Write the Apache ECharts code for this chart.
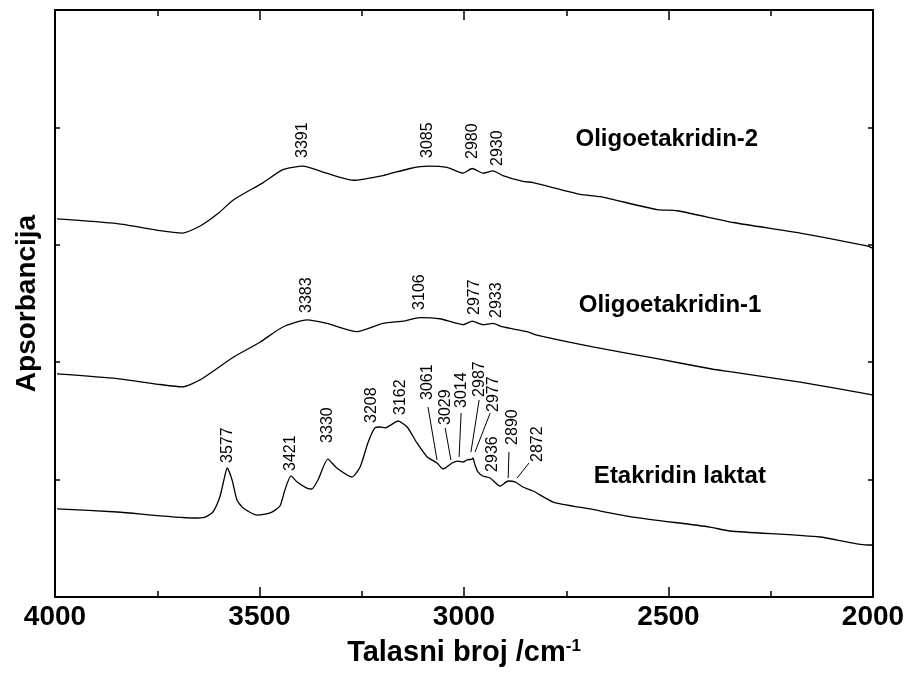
<!DOCTYPE html>
<html>
<head>
<meta charset="utf-8">
<script src="https://cdn.jsdelivr.net/npm/echarts@6/dist/echarts.min.js"></script>
<style>
html,body{margin:0;padding:0;background:#fff;}
#chart{width:908px;height:677px;}
</style>
</head>
<body>
<div id="chart"></div>
<script>
// ---- Data (wavenumber cm-1, absorbance in arbitrary offset units) ----
const xTickValues = [4000, 3500, 3000, 2500, 2000];

const oligo2 = [[3995,3.22],[3848,3.18],[3743,3.12],[3689,3.10],[3645,3.16],[3600,3.27],[3565,3.38],[3491,3.53],[3443,3.64],[3394,3.67],[3345,3.62],[3271,3.55],[3198,3.59],[3132,3.65],[3088,3.67],[3042,3.66],[3002,3.61],[2980,3.65],[2954,3.61],[2929,3.63],[2905,3.59],[2856,3.54],[2831,3.53],[2716,3.43],[2667,3.41],[2528,3.30],[2479,3.29],[2342,3.19],[2178,3.10],[2015,2.99],[2000,2.97]];

const oligo1 = [[3995,1.90],[3848,1.86],[3743,1.81],[3689,1.79],[3645,1.85],[3565,2.04],[3499,2.17],[3443,2.30],[3384,2.36],[3335,2.33],[3262,2.26],[3198,2.33],[3149,2.35],[3108,2.38],[3059,2.37],[3002,2.32],[2980,2.35],[2954,2.32],[2929,2.33],[2905,2.30],[2846,2.26],[2822,2.23],[2685,2.13],[2528,2.03],[2391,1.94],[2350,1.92],[2178,1.83],[2015,1.73],[2000,1.72]];

const laktat = [[3995,0.750],[3848,0.724],[3663,0.673],[3633,0.681],[3614,0.724],[3597,0.852],[3587,0.997],[3579,1.099],[3567,0.997],[3555,0.826],[3540,0.758],[3506,0.698],[3474,0.716],[3450,0.775],[3438,0.911],[3423,1.031],[3408,0.980],[3384,0.928],[3372,0.920],[3357,0.997],[3333,1.175],[3311,1.099],[3274,1.022],[3254,1.107],[3235,1.312],[3218,1.440],[3205,1.448],[3193,1.440],[3161,1.499],[3139,1.448],[3115,1.312],[3090,1.193],[3066,1.141],[3051,1.090],[3029,1.141],[3015,1.158],[3002,1.150],[2993,1.167],[2980,1.175],[2978,1.184],[2973,1.124],[2966,1.065],[2954,1.031],[2936,1.014],[2912,0.945],[2892,0.988],[2875,0.980],[2856,0.937],[2831,0.903],[2782,0.809],[2692,0.750],[2587,0.681],[2399,0.596],[2350,0.562],[2130,0.511],[2015,0.443],[2000,0.443]];

// peak annotations: text, x (cm-1), y (bottom of text)
const oligo2PeakText = ['3391','3085','2980','2930'];
const oligo2PeakX = [3394,3088,2978,2917];
const oligo2PeakY = [3.739,3.739,3.731,3.671];

const oligo1PeakText = ['3383','3106','2977','2933'];
const oligo1PeakX = [3384,3108,2973,2919];
const oligo1PeakY = [2.419,2.445,2.402,2.376];

const laktatPeakText = ['3577','3421','3330','3208','3162','3061','3029','3014','2987','2977','2936','2890','2872'];
const laktatPeakX = [3579,3423,3333,3225,3156,3088,3046,3005,2961,2927,2929,2880,2819];
const laktatPeakY = [1.141,1.073,1.312,1.482,1.550,1.678,1.465,1.610,1.704,1.576,1.065,1.295,1.150];

// leader lines for crowded peak labels
const leaderX1 = [3088,3046,3007,2963,2936,2890,2841];
const leaderY1 = [1.618,1.440,1.567,1.678,1.567,1.235,1.141];
const leaderX2 = [3066,3032,3012,2983,2973,2892,2870];
const leaderY2 = [1.167,1.167,1.193,1.235,1.235,1.014,1.014];

// curve names and their positions (centre)
const curveNames = ['Oligoetakridin-2','Oligoetakridin-1','Etakridin laktat'];
const curveNameX = [2504,2496,2472];
const curveNameY = [3.90,2.48,1.03];

// ---- Chart ----
const FONT = "'Liberation Sans', Arial, Helvetica, sans-serif";
const chart = echarts.init(document.getElementById('chart'), null, {renderer:'canvas'});

function peakSeries(texts, xs, ys, extra) {
  const s = {
    type:'scatter', silent:true, symbolSize:0.1,
    itemStyle:{color:'#000', opacity:0},
    data: texts.map((t,i)=>({name:t, value:[xs[i], ys[i]]})),
    label:{show:true, position:[0,0], rotate:90, align:'left', verticalAlign:'middle',
      formatter:'{b}', fontSize:16, color:'#000', opacity:1, textBorderWidth:0, fontFamily:FONT},
    z:5
  };
  return Object.assign(s, extra||{});
}

const axisCommonX = {
  type:'value', min:2000, max:4000, interval:500, inverse:true,
  axisLine:{show:true, onZero:false, lineStyle:{color:'#000', width:2}},
  axisTick:{show:true, inside:true, length:10, lineStyle:{color:'#000', width:1.5}},
  minorTick:{show:true, splitNumber:2, length:6, lineStyle:{color:'#000', width:1.5}},
  splitLine:{show:false}, minorSplitLine:{show:false}
};
const axisCommonY = {
  type:'value', min:0, max:5, interval:1,
  axisLine:{show:true, onZero:false, lineStyle:{color:'#000', width:2}},
  axisTick:{show:true, inside:true, length:5, lineStyle:{color:'#000', width:1.5}},
  axisLabel:{show:false}, splitLine:{show:false}
};

const option = {
  animation:false,
  backgroundColor:'#fff',
  grid:{left:55, right:35, top:10, bottom:80, containLabel:false},
  xAxis:[
    Object.assign({}, axisCommonX, {
      position:'bottom',
      axisLabel:{show:true, fontSize:28, fontWeight:'bold', color:'#000', fontFamily:FONT, margin:6,
        formatter: v => xTickValues.includes(v) ? String(v) : ''},
      name:'{a|Talasni broj /cm}{s|-1}', nameLocation:'middle', nameGap:41,
      nameTextStyle:{rich:{
        a:{fontSize:29, fontWeight:'bold', color:'#000', fontFamily:FONT},
        s:{fontSize:17, fontWeight:'bold', color:'#000', fontFamily:FONT, verticalAlign:'top'}
      }}
    }),
    Object.assign({}, axisCommonX, {position:'top', axisLabel:{show:false}})
  ],
  yAxis:[
    Object.assign({}, axisCommonY, {position:'left', name:'Apsorbancija', nameLocation:'middle',
      nameRotate:90, nameGap:14,
      nameTextStyle:{fontSize:28, fontWeight:'bold', color:'#000', fontFamily:FONT}}),
    Object.assign({}, axisCommonY, {position:'right'})
  ],
  series:[
    {type:'line', data:oligo2, showSymbol:false, smooth:0.2, silent:true,
      lineStyle:{color:'#000', width:1.3}},
    {type:'line', data:oligo1, showSymbol:false, smooth:0.2, silent:true,
      lineStyle:{color:'#000', width:1.3}},
    {type:'line', data:laktat, showSymbol:false, smooth:0.2, silent:true,
      lineStyle:{color:'#000', width:1.3}},
    peakSeries(oligo2PeakText, oligo2PeakX, oligo2PeakY),
    peakSeries(oligo1PeakText, oligo1PeakX, oligo1PeakY),
    peakSeries(laktatPeakText, laktatPeakX, laktatPeakY, {
      markLine:{silent:true, symbol:['none','none'], label:{show:false},
        lineStyle:{color:'#000', width:1, type:'solid', opacity:1},
        emphasis:{disabled:true},
        data: leaderX1.map((x,i)=>[{coord:[x, leaderY1[i]]},{coord:[leaderX2[i], leaderY2[i]]}])}
    }),
    {type:'scatter', silent:true, symbolSize:0.1, itemStyle:{color:'#000', opacity:0},
      data: curveNames.map((n,i)=>({name:n, value:[curveNameX[i], curveNameY[i]]})),
      label:{show:true, position:[0,0], align:'center', verticalAlign:'middle', formatter:'{b}',
        fontSize:24, fontWeight:'bold', color:'#000', opacity:1, textBorderWidth:0, fontFamily:FONT}}
  ]
};
chart.setOption(option);
</script>
</body>
</html>
